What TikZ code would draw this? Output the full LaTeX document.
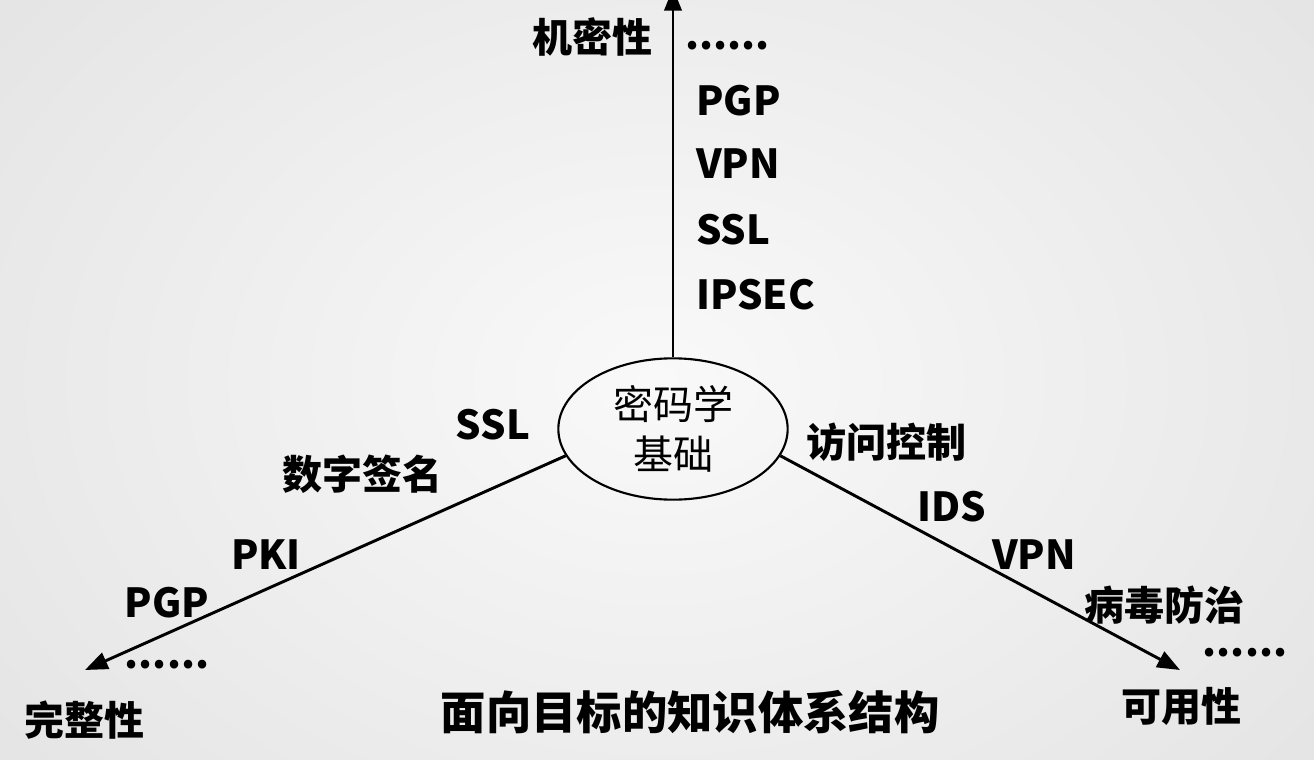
\documentclass[tikz,border=0pt]{standalone}
\usepackage{fontspec}
\setmainfont{Noto Sans CJK SC}
\usetikzlibrary{arrows.meta,shapes.geometric}
\definecolor{bgin}{HTML}{F9F9F9}
\definecolor{bgout}{HTML}{E4E4E4}
\begin{document}
\begin{tikzpicture}[x=0.75pt,y=-0.75pt,
  lab/.style={font=\fontsize{30}{32}\selectfont\bfseries, inner sep=0pt},
  latl/.style={lab, anchor=west},
  axis/.style={line width=2.2pt, -{Triangle[length=17pt,width=13pt]}},
  core/.style={draw, line width=1.6pt, ellipse, minimum width=172pt, minimum height=106pt, inner sep=0pt, align=center, font=\fontsize{30}{38}\selectfont}]
\useasboundingbox (0,0) rectangle (1314,760);
\begin{scope}
\clip (0,0) rectangle (1314,760);
\shade[inner color=bgin, outer color=bgout] (-200,-250) rectangle (1514,1010);
\end{scope}
% center
\node[core] (e) at (673,429) {密码学\\基础};
% tips
\coordinate (top) at (673,-12);
\coordinate (tipL) at (85,670);
\coordinate (tipR) at (1180,670);
\draw[axis] (e.north) -- (top);
\draw[axis] (e.194) -- (tipL);
\draw[axis] (e.-14) -- (tipR);
% top branch
\node[lab] (c1) at (592,37) {机密性};
\node[latl] (c0) at (685,46) {......};
\node[latl] (c2) at (696,101) {PGP};
\node[latl] (c3) at (696,164) {VPN};
\node[latl] (c4) at (696,230) {SSL};
\node[latl] (c5) at (696,295) {IPSEC};
% left branch
\node[lab] (l1) at (493,425) {SSL};
\node[lab] (l2) at (362,474) {数字签名};
\node[lab] (l3) at (266,555) {PKI};
\node[lab] (l4) at (167,603) {PGP};
\node[lab] (l5) at (167,665) {......};
\node[lab] (l6) at (84,720) {完整性};
% right branch
\node[lab] (r1) at (886,442) {访问控制};
\node[lab] (r2) at (952,507) {IDS};
\node[lab] (r3) at (1034,555) {VPN};
\node[lab] (r4) at (1164,605) {病毒防治};
\node[lab] (r5) at (1245,653) {......};
\node[lab] (r6) at (1181,706) {可用性};
% title
\node[lab, font=\fontsize{34}{36}\selectfont\bfseries] (t) at (690,712) {面向目标的知识体系结构};
\end{tikzpicture}
\end{document}
